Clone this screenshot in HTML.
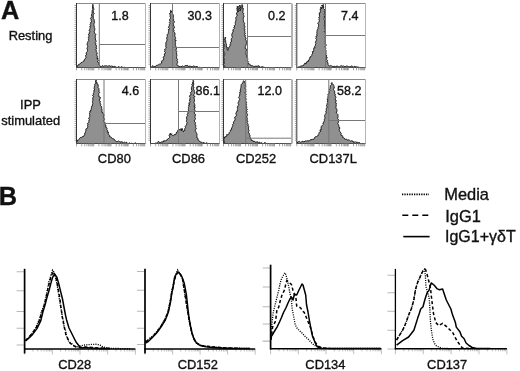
<!DOCTYPE html>
<html><head><meta charset="utf-8"><title>Figure</title><style>
html,body{margin:0;padding:0;background:#fff}
body{width:520px;height:371px;overflow:hidden}
svg{display:block;filter:blur(0.3px)}
text{font-family:"Liberation Sans",sans-serif;fill:#111;stroke:#111;stroke-width:0.35px}
</style></head><body>
<svg width="520" height="371" viewBox="0 0 520 371">
<rect width="520" height="371" fill="#fff"/>
<text x="0.9" y="19.3" font-size="25.3" font-weight="bold" fill="#000">A</text>
<text x="-1.2" y="204.8" font-size="25.3" font-weight="bold" fill="#000">B</text>
<g font-size="12.9" text-anchor="middle">
<text x="30.5" y="40.4">Resting</text>
<text x="30.5" y="108.5">IPP</text>
<text x="30.7" y="124.6">stimulated</text>
</g>
<polygon points="76.90,67.50 76.90,66.10 77.99,65.79 78.30,64.70 79.27,64.63 79.77,63.72 80.60,63.40 81.05,62.61 81.96,62.46 82.54,61.85 83.30,61.50 84.15,61.09 83.99,59.97 84.69,59.45 85.20,58.80 85.51,58.02 86.19,57.31 85.73,56.36 85.56,55.48 86.48,54.82 86.44,53.96 86.03,53.03 86.60,52.30 87.33,51.54 87.53,50.72 87.34,49.87 87.57,49.05 86.71,48.13 87.46,47.37 87.81,46.57 87.55,45.71 87.29,44.85 86.78,43.96 87.50,43.20 87.54,42.38 87.96,41.63 88.58,40.92 88.81,40.13 88.19,39.19 88.94,38.50 88.13,37.53 89.14,36.89 88.80,36 89,35.20 88.28,34.26 89.52,33.62 89.14,32.73 89.94,32.02 89.82,31.17 88.89,30.19 89.80,29.50 89.91,28.66 90.62,27.91 89.75,26.93 90,26.12 90.98,25.40 90.02,24.41 90.73,23.66 90.33,22.75 91.60,22.08 91.46,21.20 91.10,20.30 91.10,19.46 90.60,18.58 91.06,17.79 91.44,16.99 92.20,16.23 90.97,15.27 91.75,14.52 92.08,13.71 91.91,12.86 92.42,12.08 92,11.20 92.16,10.37 92.94,9.61 92.46,8.70 92.54,7.86 92.50,7 92.51,6.09 92.85,5.22 92.80,4.30 93.12,5.17 92.95,6.12 93.20,7 93.58,7.82 93.78,8.66 93.82,9.50 93.18,10.37 93.40,11.20 93.22,12.05 93.58,12.85 94.27,13.62 93.28,14.55 93.16,15.39 93.16,16.22 93.36,17.04 93.35,17.87 93.38,18.70 94.06,19.48 94.20,20.30 94.43,21.13 93.98,21.99 94.72,22.79 93.92,23.68 93.91,24.52 93.90,25.36 94.44,26.16 93.92,27.04 94.56,27.84 94.82,28.66 94.80,29.50 94.65,30.43 94.21,31.39 94.44,32.27 94.73,33.15 95.30,34 96,34.81 95.19,35.68 95.43,36.51 95.24,37.35 94.93,38.21 95.93,39 95.18,39.87 96.20,40.66 96.07,41.51 95.19,42.38 95.70,43.20 96.05,44 95.36,44.90 96.58,45.62 96.59,46.45 95.79,47.37 96.92,48.09 96.16,49 95.70,49.88 96.38,50.65 96.23,51.50 96.60,52.30 97.46,53.02 96.61,53.97 96.76,54.79 96.92,55.61 97.33,56.39 97.47,57.21 96.62,58.16 98.22,58.78 97.60,59.70 98.53,60.47 97.24,61.68 98.63,62.36 98.91,63.26 98.50,64.30 99.57,64.92 99.90,66.10 100.68,66.64 101.49,66.92 102.42,65.52 103.19,66.22 104,66.40 104.74,65.69 105.56,65.86 106.36,65.72 107.22,66.31 108,66 108.84,65.88 109.68,65.73 110.40,66.37 111.31,65.75 112,66.60 112.83,66 113.56,67.46 114.42,66.24 115.21,66.53 115.98,67.17 116.77,67.38 117.57,67.50 118.43,66.39 119.19,67.24 120,67 120.76,67.50 121.74,66.46 122.47,67.50 123.28,67.50 124.19,67.17 125,67.50" fill="#909090" stroke="#1a1a1a" stroke-width="1" stroke-linejoin="round"/>
<path d="M99.3 3.5V67.5M99.3 44.5H145.5" stroke="#777" stroke-width="1" fill="none"/>
<path d="M76.5 3.5H145.5" stroke="#8a8a8a" stroke-width="1"/>
<path d="M145.5 3.5V67.5" stroke="#b4b4b4" stroke-width="1"/>
<path d="M76.5 67.5H145.5" stroke="#4a4a4a" stroke-width="1"/>
<path d="M76.5 3.0V68.0" stroke="#333" stroke-width="1"/>
<path d="M74.5 5.5h1.6M74.5 7.6h1.6M74.5 9.7h1.6M74.5 11.8h1.6M74.5 13.9h1.6M74.5 16.0h1.6M74.5 18.1h1.6M74.5 20.2h1.6M74.5 22.3h1.6M74.5 24.4h1.6M74.5 26.5h1.6M74.5 28.6h1.6M74.5 30.7h1.6M74.5 32.8h1.6M74.5 34.9h1.6M74.5 37.0h1.6M74.5 39.1h1.6M74.5 41.2h1.6M74.5 43.3h1.6M74.5 45.4h1.6M74.5 47.5h1.6M74.5 49.6h1.6M74.5 51.7h1.6M74.5 53.8h1.6M74.5 55.9h1.6M74.5 58.0h1.6M74.5 60.1h1.6M74.5 62.2h1.6M74.5 64.3h1.6" stroke="#8a8a8a" stroke-width="0.8"/>
<path d="M76.5 67.5v2.8M81.7 67.5v2.8M84.7 67.5v2.8M86.9 67.5v2.8M88.6 67.5v2.8M89.9 67.5v2.8M91.1 67.5v2.8M92.1 67.5v2.8M93.0 67.5v2.8M93.8 67.5v2.8M98.9 67.5v2.8M102.0 67.5v2.8M104.1 67.5v2.8M105.8 67.5v2.8M107.2 67.5v2.8M108.3 67.5v2.8M109.3 67.5v2.8M110.2 67.5v2.8M111.0 67.5v2.8M116.2 67.5v2.8M119.2 67.5v2.8M121.4 67.5v2.8M123.1 67.5v2.8M124.4 67.5v2.8M125.6 67.5v2.8M126.6 67.5v2.8M127.5 67.5v2.8M128.2 67.5v2.8M133.4 67.5v2.8M136.5 67.5v2.8M138.6 67.5v2.8M140.3 67.5v2.8M141.7 67.5v2.8M142.8 67.5v2.8M143.8 67.5v2.8M144.7 67.5v2.8" stroke="#888" stroke-width="0.8"/>
<text x="111.3" y="20.4" font-size="12.5">1.8</text>
<polygon points="151,67.50 152,66.30 152.95,65.67 153.98,66.76 154.95,66.57 155.90,66.10 156.66,65.28 157.76,65.16 158.70,64.70 159.43,64.20 160.35,64.04 161,63.40 161.84,62.95 161.35,61.65 161.72,60.89 162.80,60.60 163.55,59.99 163.16,59.04 163.90,58.42 162.97,57.30 163.88,56.74 164.20,56 164.70,55.14 164.07,54.10 165.35,53.37 165.43,52.44 164.21,51.30 165.10,50.50 164.53,49.43 165.53,48.67 166.33,47.87 165.63,46.78 166,45.90 165.70,44.91 166.18,44.05 165.71,43.03 166.16,42.16 166.65,41.30 166.90,40.40 167.01,39.60 166.70,38.74 166.81,37.94 166.90,37.14 167.40,36.39 167.24,35.55 166.93,34.69 167.80,34 168.57,33.30 168.30,32.30 168.49,31.49 168.73,30.68 168.10,29.77 169.48,29.11 169.37,28.26 168.30,27.29 168.73,26.51 169.45,25.77 169.20,24.90 169.62,24.11 170.06,23.31 169.32,22.41 170.05,21.64 169.88,20.79 169.38,19.91 169.91,19.12 170.46,18.34 170.49,17.51 170.03,16.63 170.10,15.80 170.33,14.90 169.52,13.90 169.94,13.01 170.91,12.18 170.38,11.20 170.60,10.30 171.43,10.95 171.30,12 172.40,11.50 172.50,12.38 172.44,13.29 172.67,14.14 173.32,14.90 173.30,15.80 173.44,16.62 173.38,17.46 172.99,18.31 173.45,19.11 173.70,19.93 173.59,20.76 174.37,21.55 174.39,22.38 173.38,23.26 172.98,24.12 173.80,24.90 173.72,25.73 174.10,26.53 174.53,27.32 174.06,28.19 173.36,29.07 173.77,29.87 174.20,30.66 173.76,31.52 174.40,32.30 175.05,33.09 174.85,34.11 175.10,35 174.44,35.87 175.10,36.65 175.35,37.46 175.71,38.25 175.32,39.11 174.73,39.97 176.31,40.68 175.13,41.59 175.13,42.42 175.70,43.20 175.15,44.07 175.44,44.88 175.40,45.72 175.92,46.51 175.92,47.34 176.20,48.15 176.85,48.94 175.62,49.86 176.16,50.65 176.82,51.44 176.40,52.30 176.45,53.13 176.54,53.96 176.81,54.77 176.89,55.60 176.64,56.45 176.56,57.29 176.64,58.12 176.95,58.94 177.69,59.72 177,60.60 177.53,61.47 177.71,62.38 177.17,63.37 176.83,64.34 177.50,65.20 177.94,66.05 178.90,66.10 179.89,66.67 180.92,66.80 182,66.40 182.76,65.93 183.65,66.78 184.43,66.44 185.13,65.42 186,66 186.91,65.36 187.72,65.47 188.34,66.76 189.26,66.08 190,66.60 190.88,66 191.71,66.86 192.58,66.44 193.45,66.03 194.30,66.20 195.14,66.82 196,66.80 196.89,66.42 197.66,66.72 198.34,67.50 199.21,67.29 200,67.50" fill="#909090" stroke="#1a1a1a" stroke-width="1" stroke-linejoin="round"/>
<path d="M172.5 3.5V67.5M172.5 47.5H219.5" stroke="#777" stroke-width="1" fill="none"/>
<path d="M150.5 3.5H219.5" stroke="#8a8a8a" stroke-width="1"/>
<path d="M219.5 3.5V67.5" stroke="#b4b4b4" stroke-width="1"/>
<path d="M150.5 67.5H219.5" stroke="#4a4a4a" stroke-width="1"/>
<path d="M150.5 3.0V68.0" stroke="#333" stroke-width="1"/>
<path d="M148.5 5.5h1.6M148.5 7.6h1.6M148.5 9.7h1.6M148.5 11.8h1.6M148.5 13.9h1.6M148.5 16.0h1.6M148.5 18.1h1.6M148.5 20.2h1.6M148.5 22.3h1.6M148.5 24.4h1.6M148.5 26.5h1.6M148.5 28.6h1.6M148.5 30.7h1.6M148.5 32.8h1.6M148.5 34.9h1.6M148.5 37.0h1.6M148.5 39.1h1.6M148.5 41.2h1.6M148.5 43.3h1.6M148.5 45.4h1.6M148.5 47.5h1.6M148.5 49.6h1.6M148.5 51.7h1.6M148.5 53.8h1.6M148.5 55.9h1.6M148.5 58.0h1.6M148.5 60.1h1.6M148.5 62.2h1.6M148.5 64.3h1.6" stroke="#8a8a8a" stroke-width="0.8"/>
<path d="M150.5 67.5v2.8M155.7 67.5v2.8M158.7 67.5v2.8M160.9 67.5v2.8M162.6 67.5v2.8M163.9 67.5v2.8M165.1 67.5v2.8M166.1 67.5v2.8M167.0 67.5v2.8M167.8 67.5v2.8M172.9 67.5v2.8M176.0 67.5v2.8M178.1 67.5v2.8M179.8 67.5v2.8M181.2 67.5v2.8M182.3 67.5v2.8M183.3 67.5v2.8M184.2 67.5v2.8M185.0 67.5v2.8M190.2 67.5v2.8M193.2 67.5v2.8M195.4 67.5v2.8M197.1 67.5v2.8M198.4 67.5v2.8M199.6 67.5v2.8M200.6 67.5v2.8M201.5 67.5v2.8M202.2 67.5v2.8M207.4 67.5v2.8M210.5 67.5v2.8M212.6 67.5v2.8M214.3 67.5v2.8M215.7 67.5v2.8M216.8 67.5v2.8M217.8 67.5v2.8M218.7 67.5v2.8" stroke="#888" stroke-width="0.8"/>
<text x="187.5" y="20.4" font-size="12.5">30.3</text>
<polygon points="224,67.50 224.73,66.68 224.72,65.85 223.29,65.03 223.34,64.21 224.54,63.39 224.38,62.56 224.27,61.74 223.69,60.92 224.17,60.10 224.17,59.27 224.13,58.45 223.45,57.63 223.89,56.81 223.83,55.98 224.36,55.16 224.79,54.34 224.72,53.52 224.07,52.69 223.91,51.87 223.63,51.05 223.26,50.23 223.24,49.40 223.94,48.58 223.71,47.76 223.81,46.94 224.63,46.11 224.04,45.29 224.10,44.47 223.58,43.65 223.24,42.82 224,42 223.89,41.11 223.76,40.22 224.52,39.50 225.45,38.82 225.11,37.89 225,37 225.69,37.68 224.79,38.75 225.14,39.52 225.44,40.29 226,41 225.49,41.94 225.85,42.73 225.94,43.57 226.76,44.30 225.91,45.29 226.80,46 226.28,47.06 227.73,47.68 227,48.79 227.26,49.67 227.80,50.50 228.01,49.65 228.38,48.85 228.60,48 228.99,47.24 229.40,46.50 230.31,45.87 229.93,44.83 230.20,44 230.91,43.33 230.37,42.34 231.39,41.75 231.62,40.96 231.20,40 231.28,39.13 231.59,38.30 232.29,37.54 232.12,36.63 231.89,35.71 231.62,34.78 232.20,34 232.23,32.92 233.11,32.09 233.10,31 232.83,29.91 233.60,29.10 234.43,28.48 233.64,27.45 234.84,26.92 234.10,25.90 234.60,25.20 235.51,24.54 235.32,23.62 235.21,22.72 235.43,21.89 235.84,21.11 235.94,20.26 236,19.40 235.84,18.46 235.80,17.53 236.42,16.70 237.22,15.90 236.86,14.93 236.80,14 236.19,13.14 237.45,12.44 237.37,11.63 237.73,10.86 236.66,9.96 237.61,9.23 236.59,8.34 237.60,7.62 237.07,6.77 237.50,6 238.03,6.81 237.10,7.78 238.43,8.50 237.86,9.43 237.44,10.35 238.51,11.10 238.20,12 237.91,11.11 239.12,10.52 238.56,9.58 239.18,8.87 239,8 238.54,6.81 239.32,5.94 239.80,5 240.42,5.80 239.73,6.75 240.76,7.49 239.48,8.51 241.05,9.20 240.04,10.19 240.50,11 239.88,10.05 240.38,9.27 241.40,8.58 240.49,7.58 240.67,6.75 241.30,6 241.97,5.39 242.10,4.50 242.40,5.39 243.06,6.24 241.67,7.35 243.12,8.10 243.42,8.99 242.80,10 243.15,10.89 242.82,11.86 242.71,12.80 243.82,13.61 243.30,14.60 243.64,15.38 244.21,16.14 243.63,17.02 243.21,17.88 243.33,18.68 243.16,19.52 243.48,20.30 243.39,21.13 243.72,21.91 244.18,22.68 244.65,23.45 244.30,24.30 244.09,25.18 244.69,26.02 245.09,26.87 244.58,27.78 243.95,28.68 245.19,29.49 244.51,30.40 244.87,31.25 244.73,32.13 244.80,33 245.48,33.80 244.30,34.84 245.52,35.58 245.08,36.52 245.49,37.36 246.24,38.15 245.50,39.14 245.70,40 246.31,40.80 246.48,41.62 246.55,42.45 246.38,43.28 246.51,44.11 245.68,44.97 245.92,45.79 245.19,46.64 245.31,47.47 245.24,48.30 246.49,49.08 246.19,49.92 246.53,50.73 246.02,51.58 246.20,52.40 246.11,53.29 245.95,54.19 246.20,55.04 247.03,55.82 246.88,56.72 246.83,57.61 247.76,58.37 247.83,59.24 247.20,60.20 247.62,60.93 248.35,61.55 247.70,62.66 248.71,63.18 248.60,64.10 249.80,64.23 250.52,64.97 251,66 251.85,65.67 252.66,65.75 253.40,66.33 254.21,66.34 255,66.50 255.95,66.03 257.04,66.39 258,66 258.89,65.71 259.47,66.96 260.25,67.21 261.13,67 262,66.80 263.02,66.93 264,67.28 265,67.50" fill="#909090" stroke="#1a1a1a" stroke-width="1" stroke-linejoin="round"/>
<path d="M247.5 3.5V67.5M247.5 36.5H291.5" stroke="#777" stroke-width="1" fill="none"/>
<path d="M223.5 3.5H291.5" stroke="#8a8a8a" stroke-width="1"/>
<path d="M292.0 3.5V67.5" stroke="#b4b4b4" stroke-width="2"/>
<path d="M223.5 67.5H291.5" stroke="#4a4a4a" stroke-width="1"/>
<path d="M223.5 3.0V68.0" stroke="#333" stroke-width="1"/>
<path d="M221.5 5.5h1.6M221.5 7.6h1.6M221.5 9.7h1.6M221.5 11.8h1.6M221.5 13.9h1.6M221.5 16.0h1.6M221.5 18.1h1.6M221.5 20.2h1.6M221.5 22.3h1.6M221.5 24.4h1.6M221.5 26.5h1.6M221.5 28.6h1.6M221.5 30.7h1.6M221.5 32.8h1.6M221.5 34.9h1.6M221.5 37.0h1.6M221.5 39.1h1.6M221.5 41.2h1.6M221.5 43.3h1.6M221.5 45.4h1.6M221.5 47.5h1.6M221.5 49.6h1.6M221.5 51.7h1.6M221.5 53.8h1.6M221.5 55.9h1.6M221.5 58.0h1.6M221.5 60.1h1.6M221.5 62.2h1.6M221.5 64.3h1.6" stroke="#8a8a8a" stroke-width="0.8"/>
<path d="M223.5 67.5v2.8M228.6 67.5v2.8M231.6 67.5v2.8M233.7 67.5v2.8M235.4 67.5v2.8M236.7 67.5v2.8M237.9 67.5v2.8M238.9 67.5v2.8M239.7 67.5v2.8M240.5 67.5v2.8M245.6 67.5v2.8M248.6 67.5v2.8M250.7 67.5v2.8M252.4 67.5v2.8M253.7 67.5v2.8M254.9 67.5v2.8M255.9 67.5v2.8M256.7 67.5v2.8M257.5 67.5v2.8M262.6 67.5v2.8M265.6 67.5v2.8M267.7 67.5v2.8M269.4 67.5v2.8M270.7 67.5v2.8M271.9 67.5v2.8M272.9 67.5v2.8M273.7 67.5v2.8M274.5 67.5v2.8M279.6 67.5v2.8M282.6 67.5v2.8M284.7 67.5v2.8M286.4 67.5v2.8M287.7 67.5v2.8M288.9 67.5v2.8M289.9 67.5v2.8M290.7 67.5v2.8" stroke="#888" stroke-width="0.8"/>
<text x="268" y="20.4" font-size="12.5">0.2</text>
<polygon points="298,67.50 298.65,66.74 299.68,66.81 300.39,66.19 301.30,66 302.26,65.82 303.17,65.52 304,65 304.13,63.94 304.68,63.34 306.16,63.78 306.14,62.55 307,62.30 307.12,61.35 308.61,61.31 308.39,60.14 309.35,59.75 309.34,58.72 310.04,58.15 309.86,57 310.80,56.60 311.34,55.93 312.02,55.32 311.85,54.34 312.51,53.72 312.75,52.91 312.20,51.76 313.56,51.45 313.65,50.58 313.57,49.63 314.20,49 313.62,48.05 315.09,47.50 314.63,46.57 315.17,45.84 315.58,45.08 315.48,44.22 315.96,43.48 315.29,42.51 316.09,41.83 315.68,40.91 316.61,40.25 316.68,39.43 315.61,38.38 316.40,37.70 315.92,36.83 316.15,36.05 317.44,35.41 316.70,34.51 317.10,33.75 316.68,32.89 317.11,32.14 317.02,31.32 317.06,30.52 317.54,29.77 317.63,28.97 318.24,28.24 317.99,27.40 318.48,26.66 318.47,25.85 318.78,25.08 318.37,24.22 317.67,23.33 318.30,22.60 319,21.85 319.30,21.03 319.34,20.17 318.94,19.24 319.30,18.43 318.64,17.46 319.76,16.77 319.48,15.86 319.50,15 319.34,14.01 319.16,13.02 320.58,12.33 320.20,11.30 321.10,10.55 319.79,9.49 321.04,8.79 320.54,7.84 320.80,7 321.68,7.82 321.50,9 321.34,8.14 322.24,7.48 322.56,6.72 321.42,5.66 322.30,5 322.36,5.88 323.47,6.47 323,7.50 323.54,6.57 323.13,5.45 323.60,4.50 323.12,5.48 323.08,6.40 323.95,7.20 323.29,8.21 324.20,9 324.53,9.79 324.93,10.58 324.13,11.42 325.07,12.19 324.83,13 324.52,13.82 324.23,14.64 324.98,15.41 325.19,16.21 323.90,17.06 324.82,17.84 323.82,18.68 323.94,19.48 324.80,20.25 324.70,21.06 324.63,21.87 324.47,22.68 324.57,23.48 324.66,24.28 324.59,25.09 324.11,25.91 324.83,26.69 324.98,27.49 324.90,28.30 324.58,29.13 325.38,29.92 325.31,30.74 324.26,31.59 325.02,32.38 325,33.20 325.89,33.99 325.28,34.83 325.04,35.65 325.97,36.44 325.04,37.29 325.05,38.11 325.99,38.89 325.12,39.74 325.40,40.55 325.09,41.38 325.65,42.17 325.11,43.01 325.09,43.83 326.26,44.61 326.23,45.42 325.28,46.28 324.85,47.11 326.02,47.89 325.72,48.71 325.53,49.54 326,50.34 325.96,51.16 326.07,51.97 325.80,52.80 326.14,53.58 325.92,54.45 326.52,55.19 326.54,56.02 326.05,56.94 327.36,57.56 326.64,58.52 326.51,59.38 327.32,60.08 327.60,60.87 326.81,61.84 327.84,62.50 328.06,63.30 327.70,64.20 328.40,64.72 328.75,65.63 329.60,66 330.56,65.45 331.43,65.88 332.32,65.99 333.15,66.86 334.11,66.32 335,66.50 335.85,67.04 336.65,65.92 337.49,66.16 338.34,66.64 339.19,66.99 340,66.27 340.82,65.89 341.65,65.69 342.50,66.32 343.32,65.76 344.18,66.72 345,66.20 345.80,66.79 346.70,65.79 347.52,66 348.30,66.89 349.15,66.68 349.97,66.99 350.85,66.30 351.70,66.01 352.52,66.32 353.31,67.17 354.19,66.38 355,66.80 355.87,66.67 356.69,66.90 357.52,67.02 358.35,67.12 359.07,67.50 360,67.50" fill="#909090" stroke="#1a1a1a" stroke-width="1" stroke-linejoin="round"/>
<path d="M325.5 3.5V67.5M325.5 35.5H365.5" stroke="#777" stroke-width="1" fill="none"/>
<path d="M296.8 3.5H365.5" stroke="#8a8a8a" stroke-width="1"/>
<path d="M365.5 3.5V67.5" stroke="#b4b4b4" stroke-width="1"/>
<path d="M296.8 67.5H365.5" stroke="#4a4a4a" stroke-width="1"/>
<path d="M296.8 3.0V68.0" stroke="#333" stroke-width="1"/>
<path d="M294.8 5.5h1.6M294.8 7.6h1.6M294.8 9.7h1.6M294.8 11.8h1.6M294.8 13.9h1.6M294.8 16.0h1.6M294.8 18.1h1.6M294.8 20.2h1.6M294.8 22.3h1.6M294.8 24.4h1.6M294.8 26.5h1.6M294.8 28.6h1.6M294.8 30.7h1.6M294.8 32.8h1.6M294.8 34.9h1.6M294.8 37.0h1.6M294.8 39.1h1.6M294.8 41.2h1.6M294.8 43.3h1.6M294.8 45.4h1.6M294.8 47.5h1.6M294.8 49.6h1.6M294.8 51.7h1.6M294.8 53.8h1.6M294.8 55.9h1.6M294.8 58.0h1.6M294.8 60.1h1.6M294.8 62.2h1.6M294.8 64.3h1.6" stroke="#8a8a8a" stroke-width="0.8"/>
<path d="M296.8 67.5v2.8M302.0 67.5v2.8M305.0 67.5v2.8M307.1 67.5v2.8M308.8 67.5v2.8M310.2 67.5v2.8M311.3 67.5v2.8M312.3 67.5v2.8M313.2 67.5v2.8M314.0 67.5v2.8M319.1 67.5v2.8M322.2 67.5v2.8M324.3 67.5v2.8M326.0 67.5v2.8M327.3 67.5v2.8M328.5 67.5v2.8M329.5 67.5v2.8M330.4 67.5v2.8M331.1 67.5v2.8M336.3 67.5v2.8M339.3 67.5v2.8M341.5 67.5v2.8M343.2 67.5v2.8M344.5 67.5v2.8M345.7 67.5v2.8M346.7 67.5v2.8M347.5 67.5v2.8M348.3 67.5v2.8M353.5 67.5v2.8M356.5 67.5v2.8M358.7 67.5v2.8M360.3 67.5v2.8M361.7 67.5v2.8M362.8 67.5v2.8M363.8 67.5v2.8M364.7 67.5v2.8" stroke="#888" stroke-width="0.8"/>
<text x="341" y="20.4" font-size="12.5">7.4</text>
<polygon points="76.80,143.50 76.69,142.24 77.40,141.20 77.55,140.15 78.48,139.88 79.20,139.40 79.62,138.34 80.29,137.60 81.50,137.50 82.09,136.71 83.36,136.63 83.93,135.82 84.30,134.80 85.04,134.25 84.62,133.13 85.43,132.61 85.42,131.68 86.10,131.10 85.79,130.19 85.89,129.37 86.26,128.63 87.56,128.13 87.61,127.30 87.78,126.51 87.50,125.60 88.15,124.92 87.39,123.92 87.76,123.17 88.44,122.50 88.79,121.76 89.17,121.02 88.80,120.10 89.56,119.29 88.48,118.15 89.47,117.38 89.74,116.48 89.64,115.52 89.80,114.60 89.43,113.60 90.04,112.75 89.57,111.74 91.05,111.02 90.50,110 91.41,109.36 91.30,108.30 91.60,107.40 91.42,106.52 92.53,105.85 92.13,104.93 92.76,104.18 92.85,103.34 92.45,102.42 92.44,101.57 92.88,100.79 92.75,99.91 93,99.10 92.56,98.22 92.89,97.44 93.80,96.73 92.67,95.77 92.78,94.96 93.80,94.26 93.35,93.38 93.85,92.62 93.90,91.80 93.97,90.98 93.88,90.14 95.03,89.47 93.87,88.48 94.32,87.72 94.10,86.86 94.90,86.14 94.80,85.30 94.71,84.37 95.08,83.58 95.93,82.94 95.80,82 95.72,80.85 96.20,79.80 96.21,80.74 95.76,81.72 97.13,82.51 96.60,83.50 97.85,83.97 98,85.30 98.54,86.05 97.80,86.98 98.15,87.76 98.87,88.49 98.83,89.33 99.19,90.10 98.85,90.98 98.90,91.80 99.74,92.51 98.81,93.47 98.61,94.32 98.62,95.14 99.08,95.91 98.84,96.77 100.44,97.37 100.12,98.24 99.90,99.10 99.31,100.14 99.77,101 100.49,101.83 99.80,102.88 100.46,103.71 100.80,104.60 100.45,105.58 101.43,106.35 101.74,107.22 101.49,108.19 102.12,109 101.70,110 102.20,110.86 101.65,112.09 102.93,112.69 103,113.70 103.90,114.38 103.97,115.19 103.90,116.02 103.05,116.97 103.84,117.67 104.08,118.45 104.51,119.20 104,120.10 103.42,121.17 104.48,121.92 105,122.77 105.41,123.64 104.90,124.70 105.86,125.21 105.99,126.04 105.54,127.10 106.62,127.56 107.08,128.27 106.70,129.30 107.04,130.08 107.73,130.72 106.95,131.96 108.57,132.21 108.30,133.25 108.27,134.18 109,134.80 109.67,135.43 109.50,136.72 110.71,136.94 111.57,137.43 111.80,138.40 112.60,138.74 113.64,138.70 114.03,139.67 114.90,139.90 115.40,140.70 115.99,141.53 116.78,141.67 117.70,141.40 118.68,140.92 119.35,141.49 120,142.10 120.97,141.81 121.89,141.87 122.80,142.02 123.59,143.15 124.66,142.11 125.50,142.80 126.36,142.13 127.08,143.50 127.93,143.05 128.70,143.50 129.57,142.90 130.34,143.50 131.17,143.40 132,143.20 132.77,143.50 133.57,143.50 134.40,143.37 135.25,142.79 136,143.50" fill="#909090" stroke="#1a1a1a" stroke-width="1" stroke-linejoin="round"/>
<path d="M104 79.5V143.5M104 123.5H145.5" stroke="#777" stroke-width="1" fill="none"/>
<path d="M76.5 79.5H145.5" stroke="#8a8a8a" stroke-width="1"/>
<path d="M145.5 79.5V143.5" stroke="#b4b4b4" stroke-width="1"/>
<path d="M76.5 143.5H145.5" stroke="#4a4a4a" stroke-width="1"/>
<path d="M76.5 79.0V144.0" stroke="#333" stroke-width="1"/>
<path d="M74.5 81.5h1.6M74.5 83.6h1.6M74.5 85.7h1.6M74.5 87.8h1.6M74.5 89.9h1.6M74.5 92.0h1.6M74.5 94.1h1.6M74.5 96.2h1.6M74.5 98.3h1.6M74.5 100.4h1.6M74.5 102.5h1.6M74.5 104.6h1.6M74.5 106.7h1.6M74.5 108.8h1.6M74.5 110.9h1.6M74.5 113.0h1.6M74.5 115.1h1.6M74.5 117.2h1.6M74.5 119.3h1.6M74.5 121.4h1.6M74.5 123.5h1.6M74.5 125.6h1.6M74.5 127.7h1.6M74.5 129.8h1.6M74.5 131.9h1.6M74.5 134.0h1.6M74.5 136.1h1.6M74.5 138.2h1.6M74.5 140.3h1.6" stroke="#8a8a8a" stroke-width="0.8"/>
<path d="M76.5 143.5v2.8M81.7 143.5v2.8M84.7 143.5v2.8M86.9 143.5v2.8M88.6 143.5v2.8M89.9 143.5v2.8M91.1 143.5v2.8M92.1 143.5v2.8M93.0 143.5v2.8M93.8 143.5v2.8M98.9 143.5v2.8M102.0 143.5v2.8M104.1 143.5v2.8M105.8 143.5v2.8M107.2 143.5v2.8M108.3 143.5v2.8M109.3 143.5v2.8M110.2 143.5v2.8M111.0 143.5v2.8M116.2 143.5v2.8M119.2 143.5v2.8M121.4 143.5v2.8M123.1 143.5v2.8M124.4 143.5v2.8M125.6 143.5v2.8M126.6 143.5v2.8M127.5 143.5v2.8M128.2 143.5v2.8M133.4 143.5v2.8M136.5 143.5v2.8M138.6 143.5v2.8M140.3 143.5v2.8M141.7 143.5v2.8M142.8 143.5v2.8M143.8 143.5v2.8M144.7 143.5v2.8" stroke="#888" stroke-width="0.8"/>
<text x="121.8" y="94.8" font-size="12.5">4.6</text>
<polygon points="151,143.50 151.93,143.50 152.87,143.50 153.78,143.49 154.72,143.50 155.57,143.09 156.52,143.22 157.30,142.40 158.14,141.53 159.17,142.11 160.21,142.74 161.09,142.16 162,141.80 163.14,142.15 163.77,140.67 164.90,141 165.69,140.70 166.50,140.50 166.91,139.51 167.90,139.10 168.70,138.40 169.40,137.60 169.72,136.75 169.04,135.67 169.56,134.86 169.86,134 170.40,133.20 170.07,134.31 171,135 171.80,133.70 171.75,134.75 172.50,135.50 173.30,135.70 174,134.72 175.20,134.70 176.10,134.21 176.20,133.20 176.56,132.08 177.70,131.80 178.18,131.07 177.74,129.99 178.60,129.40 179.40,130 180.10,128.90 181.27,129.51 181,130.80 181.88,130.23 181.24,129.02 182,128.40 182.79,129.07 182.04,130.41 182.58,131.19 183.50,131.80 183.54,130.82 184.88,130.38 184.61,129.27 184.90,128.40 185.50,127.53 185.12,126.31 185.90,125.50 186.74,124.79 186.49,123.89 187.06,123.14 187.09,122.29 186.30,121.30 186.54,120.49 186.90,119.70 186.50,118.78 186.60,117.93 186.60,117.07 187.10,116.28 187.71,115.51 186.89,114.52 187.80,113.80 188.20,112.95 187.78,112 187.85,111.11 188.77,110.33 188.35,109.38 188.50,108.50 188.35,107.61 188.76,106.81 189.26,106.02 188.38,105 189.97,104.41 188.61,103.30 189.91,102.66 190.20,101.84 189.80,100.90 189.13,99.99 190.46,99.33 189.89,98.44 190.32,97.67 189.52,96.75 189.68,95.94 189.99,95.16 191.32,94.50 190.70,93.60 190.37,92.60 191.40,91.83 191.83,90.96 192,90.05 191.20,88.98 191.60,88.10 191.52,87.21 191.94,86.41 192.48,85.63 191.58,84.59 192.74,83.92 192.50,83 193.13,82.19 193.40,81.30 193,80.30 193.84,81.15 192.49,82.23 193.95,83 193.40,84 193.75,84.79 193.42,85.66 193.04,86.54 194.05,87.25 193.90,88.10 193.25,88.92 193.88,89.70 194.27,90.49 194.29,91.29 194.54,92.08 194.72,92.88 194.64,93.68 193.80,94.51 193.33,95.32 194.69,96.08 194.90,96.88 193.42,97.72 194.17,98.50 194.40,99.30 194.70,100.09 194.30,100.90 194.19,101.79 193.85,102.70 194.48,103.56 194.58,104.44 195.20,105.31 193.86,106.25 195.31,107.08 194.60,108 194.65,108.81 194.14,109.64 195.32,110.39 194.40,111.25 194.09,112.08 194.64,112.86 194.43,113.68 195.56,114.43 195.08,115.27 195.58,116.05 194.51,116.92 195.10,117.70 195.47,118.49 195.26,119.31 194.43,120.17 194.70,120.96 194.55,121.78 195.42,122.55 195.41,123.36 195.07,124.19 195.51,124.97 195.85,125.77 195.71,126.58 195.60,127.40 196.27,128.19 196.02,129.11 195.16,130.10 195.31,130.96 195.95,131.76 196.27,132.60 196.63,133.43 197.14,134.25 196.60,135.20 197.22,135.86 196.74,136.91 196.89,137.74 197.93,138.25 198,139.10 198.32,140.19 199,140.98 200,141.50 200.80,142.10 201.72,142.35 202.57,142.79 203.67,142.49 204.50,143 205.39,143.41 206.37,142.82 207.25,143.23 208.13,143.50 209.06,143.50 210,143.50" fill="#909090" stroke="#1a1a1a" stroke-width="1" stroke-linejoin="round"/>
<path d="M178.5 79.5V143.5M178.5 111.5H219.5" stroke="#777" stroke-width="1" fill="none"/>
<path d="M150.5 79.5H219.5" stroke="#8a8a8a" stroke-width="1"/>
<path d="M219.5 79.5V143.5" stroke="#b4b4b4" stroke-width="1"/>
<path d="M150.5 143.5H219.5" stroke="#4a4a4a" stroke-width="1"/>
<path d="M150.5 79.0V144.0" stroke="#333" stroke-width="1"/>
<path d="M148.5 81.5h1.6M148.5 83.6h1.6M148.5 85.7h1.6M148.5 87.8h1.6M148.5 89.9h1.6M148.5 92.0h1.6M148.5 94.1h1.6M148.5 96.2h1.6M148.5 98.3h1.6M148.5 100.4h1.6M148.5 102.5h1.6M148.5 104.6h1.6M148.5 106.7h1.6M148.5 108.8h1.6M148.5 110.9h1.6M148.5 113.0h1.6M148.5 115.1h1.6M148.5 117.2h1.6M148.5 119.3h1.6M148.5 121.4h1.6M148.5 123.5h1.6M148.5 125.6h1.6M148.5 127.7h1.6M148.5 129.8h1.6M148.5 131.9h1.6M148.5 134.0h1.6M148.5 136.1h1.6M148.5 138.2h1.6M148.5 140.3h1.6" stroke="#8a8a8a" stroke-width="0.8"/>
<path d="M150.5 143.5v2.8M155.7 143.5v2.8M158.7 143.5v2.8M160.9 143.5v2.8M162.6 143.5v2.8M163.9 143.5v2.8M165.1 143.5v2.8M166.1 143.5v2.8M167.0 143.5v2.8M167.8 143.5v2.8M172.9 143.5v2.8M176.0 143.5v2.8M178.1 143.5v2.8M179.8 143.5v2.8M181.2 143.5v2.8M182.3 143.5v2.8M183.3 143.5v2.8M184.2 143.5v2.8M185.0 143.5v2.8M190.2 143.5v2.8M193.2 143.5v2.8M195.4 143.5v2.8M197.1 143.5v2.8M198.4 143.5v2.8M199.6 143.5v2.8M200.6 143.5v2.8M201.5 143.5v2.8M202.2 143.5v2.8M207.4 143.5v2.8M210.5 143.5v2.8M212.6 143.5v2.8M214.3 143.5v2.8M215.7 143.5v2.8M216.8 143.5v2.8M217.8 143.5v2.8M218.7 143.5v2.8" stroke="#888" stroke-width="0.8"/>
<text x="195.6" y="94.6" font-size="12.5">86.1</text>
<polygon points="224,143.50 224.47,142.60 224.52,141.70 223.98,140.80 223.62,139.90 224,139 224.40,138 224.86,136.73 226.20,136.80 226.70,135.71 226.70,134.50 227.90,135 228.31,134.23 229.16,133.71 229.08,132.65 229.70,132 230.48,131.41 230.18,130.27 231.33,129.87 231.63,129.03 231.58,128.02 232.10,127.30 232.42,126.48 232.89,125.70 232.40,124.63 233.21,123.95 233.85,123.23 233.28,122.13 233.90,121.40 234.64,120.76 234.75,119.90 235.27,119.18 234.79,118.11 234.70,117.18 235.60,116.60 236.27,115.93 236.47,115.14 236.12,114.21 235.77,113.28 236.13,112.54 237.01,111.92 236.68,111 237.90,110.47 237.40,109.50 237.64,108.64 237.12,107.70 237.95,106.90 237.58,105.97 238.59,105.20 238.65,104.32 238.12,103.38 238.20,102.50 238.63,101.71 238.91,100.89 239.28,100.09 239.74,99.32 239.20,98.30 238.57,97.38 239.21,96.64 239.71,95.87 239.36,94.99 239.92,94.24 239.90,93.40 239.41,92.47 240.81,91.92 240.41,91.01 239.93,90.08 240.94,89.45 240.55,88.54 241,87.80 240.73,86.85 241.37,86.11 241.04,85.15 241.35,84.33 242,83.60 243.03,82.80 243,81.50 243.80,80.80 244.60,81.50 244.60,82.64 245.20,83.60 246,84.39 244.81,85.25 246.05,86.03 245.57,86.86 244.68,87.70 245.16,88.51 245.69,89.31 245.60,90.13 245.60,90.94 246.05,91.75 244.68,92.61 245.50,93.40 246.28,94.16 245.76,95.02 245.31,95.88 245.93,96.65 245.07,97.55 245.90,98.30 246.44,99.07 245.42,100.11 245.70,100.92 246.19,101.70 246.60,102.50 245.99,103.32 246.72,104.11 246.12,104.93 246.19,105.73 246.65,106.53 246.74,107.33 246.38,108.14 246.87,108.94 247.40,109.73 246.36,110.56 247.15,111.35 246.81,112.16 246.35,112.98 247.35,113.76 247.60,114.56 247.45,115.37 246.73,116.19 247.11,116.99 246.90,117.80 247.41,118.54 247.22,119.38 246.58,120.28 247.77,120.91 247.64,121.75 247.02,122.65 247.56,123.38 248.23,124.09 248.02,124.93 248.13,125.73 248.79,126.44 248.53,127.29 248.77,128.07 248.10,128.98 248.70,129.70 249.11,130.44 248.72,131.32 248.36,132.19 248.57,132.97 249.56,133.61 249.34,134.46 249.92,135.17 249.93,135.98 249.90,136.80 250.32,137.56 250.28,138.55 251.10,139.10 251.19,140.33 252.63,140.49 253,141.50 254.23,141.04 255.02,142.02 256,142.40 256.93,141.78 257.79,141.82 258.53,143.09 259.49,142.13 260.25,143.18 261.16,142.69 262,143 262.80,143.50 263.67,143.50 264.63,142.52 265.47,142.80 266.23,143.50 267.13,143.50 268,143.50" fill="#909090" stroke="#1a1a1a" stroke-width="1" stroke-linejoin="round"/>
<path d="M245.7 79.5V143.5M245.7 138.2H291.5" stroke="#777" stroke-width="1" fill="none"/>
<path d="M223.5 79.5H291.5" stroke="#8a8a8a" stroke-width="1"/>
<path d="M292.0 79.5V143.5" stroke="#b4b4b4" stroke-width="2"/>
<path d="M223.5 143.5H291.5" stroke="#4a4a4a" stroke-width="1"/>
<path d="M223.5 79.0V144.0" stroke="#333" stroke-width="1"/>
<path d="M221.5 81.5h1.6M221.5 83.6h1.6M221.5 85.7h1.6M221.5 87.8h1.6M221.5 89.9h1.6M221.5 92.0h1.6M221.5 94.1h1.6M221.5 96.2h1.6M221.5 98.3h1.6M221.5 100.4h1.6M221.5 102.5h1.6M221.5 104.6h1.6M221.5 106.7h1.6M221.5 108.8h1.6M221.5 110.9h1.6M221.5 113.0h1.6M221.5 115.1h1.6M221.5 117.2h1.6M221.5 119.3h1.6M221.5 121.4h1.6M221.5 123.5h1.6M221.5 125.6h1.6M221.5 127.7h1.6M221.5 129.8h1.6M221.5 131.9h1.6M221.5 134.0h1.6M221.5 136.1h1.6M221.5 138.2h1.6M221.5 140.3h1.6" stroke="#8a8a8a" stroke-width="0.8"/>
<path d="M223.5 143.5v2.8M228.6 143.5v2.8M231.6 143.5v2.8M233.7 143.5v2.8M235.4 143.5v2.8M236.7 143.5v2.8M237.9 143.5v2.8M238.9 143.5v2.8M239.7 143.5v2.8M240.5 143.5v2.8M245.6 143.5v2.8M248.6 143.5v2.8M250.7 143.5v2.8M252.4 143.5v2.8M253.7 143.5v2.8M254.9 143.5v2.8M255.9 143.5v2.8M256.7 143.5v2.8M257.5 143.5v2.8M262.6 143.5v2.8M265.6 143.5v2.8M267.7 143.5v2.8M269.4 143.5v2.8M270.7 143.5v2.8M271.9 143.5v2.8M272.9 143.5v2.8M273.7 143.5v2.8M274.5 143.5v2.8M279.6 143.5v2.8M282.6 143.5v2.8M284.7 143.5v2.8M286.4 143.5v2.8M287.7 143.5v2.8M288.9 143.5v2.8M289.9 143.5v2.8M290.7 143.5v2.8" stroke="#888" stroke-width="0.8"/>
<text x="257.5" y="94.8" font-size="12.5">12.0</text>
<polygon points="297.50,143.50 297.50,142 298.45,141.72 299.40,141.44 300.35,142.24 301.30,142 302.13,141.20 303.16,141.81 304.05,141.41 305,141.50 305.90,140.70 306.95,141.31 307.85,140.46 308.90,141.10 309.63,140.68 310.18,139.82 310.97,139.52 312,139.80 312.77,139.20 313.94,139.25 314.50,138.30 314.76,137.25 315.54,136.77 316.50,136.50 317.25,135.97 318.23,135.65 318.30,134.50 318.91,133.66 319.16,132.62 319.80,131.80 320.82,131.35 319.78,130.01 321.30,129.78 321.10,128.80 321.09,127.92 321.17,127.07 321.43,126.30 322.01,125.65 322.60,125 323.42,124.25 322.82,122.97 323.77,122.27 324,121.30 324.46,120.41 324.30,119.35 324.82,118.47 325,117.50 324.52,116.41 324.71,115.45 325.14,114.55 325.80,113.70 326.20,112.88 325.91,111.97 325.84,111.10 326.38,110.30 326.28,109.41 326.15,108.53 327.04,107.77 327,106.90 326.80,106 326.49,105.13 327.12,104.37 327.14,103.54 327.80,102.78 327.66,101.93 327.06,101.03 328.26,100.34 326.99,99.35 327.70,98.60 327.73,97.75 328.43,97.03 327.64,96.02 328.33,95.30 327.79,94.33 328.94,93.70 329.25,92.91 329,92 329.31,91.20 329.98,90.49 329.31,89.45 330.10,88.77 330.15,87.91 330.32,87.08 330.33,86.21 330.60,85.40 331.46,84.64 331.30,83.50 331.90,82.50 331.74,83.62 332.80,84 333.33,84.68 333.80,85.40 333.63,86.25 334.67,86.98 333.74,87.91 333.92,88.72 333.45,89.61 333.81,90.40 334.76,91.14 334.50,92 334.78,92.80 334.43,93.68 335.56,94.38 334.96,95.29 335.53,96.06 335.71,96.88 335.90,97.69 335.30,98.60 334.99,99.48 336.11,100.17 336.03,101.01 335.92,101.87 335.27,102.79 336.63,103.44 336.16,104.34 336.11,105.19 336.30,106 335.79,106.93 335.99,107.77 336.02,108.63 337.05,109.38 336.93,110.26 337.12,111.11 336.39,112.06 336.37,112.93 337.20,113.70 337.86,114.44 337.93,115.26 337.95,116.09 338.05,116.90 337.76,117.77 337.70,118.60 338.33,119.35 338.84,120.11 338.29,121.01 338.48,121.82 338.27,122.67 337.77,123.57 338.29,124.33 338.70,125.10 338.86,125.89 338.88,126.71 338.98,127.51 340.13,128.07 338.99,129.16 339.36,129.90 339.40,130.72 339.70,131.48 340.52,132.11 340.69,132.90 341.33,133.57 340.90,134.50 341.11,135.31 342.31,135.55 342.70,136.26 342.50,137.30 343.54,137.58 344.32,138.16 344.70,139.20 345.73,139.33 346.83,139.27 347.50,140.30 348.68,139.80 349.58,140.30 350.40,141.10 351.34,140.66 352.05,141.26 352.97,140.92 353.46,142.43 354.36,142.21 355.33,141.67 356,142.40 356.93,142.17 357.76,142.47 358.61,142.66 359.54,142.44 360.19,143.50 361,143.50 362,143.50" fill="#909090" stroke="#1a1a1a" stroke-width="1" stroke-linejoin="round"/>
<path d="M328.8 79.5V143.5M328.8 120.5H365.5" stroke="#777" stroke-width="1" fill="none"/>
<path d="M296.8 79.5H365.5" stroke="#8a8a8a" stroke-width="1"/>
<path d="M365.5 79.5V143.5" stroke="#b4b4b4" stroke-width="1"/>
<path d="M296.8 143.5H365.5" stroke="#4a4a4a" stroke-width="1"/>
<path d="M296.8 79.0V144.0" stroke="#333" stroke-width="1"/>
<path d="M294.8 81.5h1.6M294.8 83.6h1.6M294.8 85.7h1.6M294.8 87.8h1.6M294.8 89.9h1.6M294.8 92.0h1.6M294.8 94.1h1.6M294.8 96.2h1.6M294.8 98.3h1.6M294.8 100.4h1.6M294.8 102.5h1.6M294.8 104.6h1.6M294.8 106.7h1.6M294.8 108.8h1.6M294.8 110.9h1.6M294.8 113.0h1.6M294.8 115.1h1.6M294.8 117.2h1.6M294.8 119.3h1.6M294.8 121.4h1.6M294.8 123.5h1.6M294.8 125.6h1.6M294.8 127.7h1.6M294.8 129.8h1.6M294.8 131.9h1.6M294.8 134.0h1.6M294.8 136.1h1.6M294.8 138.2h1.6M294.8 140.3h1.6" stroke="#8a8a8a" stroke-width="0.8"/>
<path d="M296.8 143.5v2.8M302.0 143.5v2.8M305.0 143.5v2.8M307.1 143.5v2.8M308.8 143.5v2.8M310.2 143.5v2.8M311.3 143.5v2.8M312.3 143.5v2.8M313.2 143.5v2.8M314.0 143.5v2.8M319.1 143.5v2.8M322.2 143.5v2.8M324.3 143.5v2.8M326.0 143.5v2.8M327.3 143.5v2.8M328.5 143.5v2.8M329.5 143.5v2.8M330.4 143.5v2.8M331.1 143.5v2.8M336.3 143.5v2.8M339.3 143.5v2.8M341.5 143.5v2.8M343.2 143.5v2.8M344.5 143.5v2.8M345.7 143.5v2.8M346.7 143.5v2.8M347.5 143.5v2.8M348.3 143.5v2.8M353.5 143.5v2.8M356.5 143.5v2.8M358.7 143.5v2.8M360.3 143.5v2.8M361.7 143.5v2.8M362.8 143.5v2.8M363.8 143.5v2.8M364.7 143.5v2.8" stroke="#888" stroke-width="0.8"/>
<text x="337" y="94.6" font-size="12.5">58.2</text>
<g font-size="12.9" text-anchor="middle">
<text x="114.35" y="162.8">CD80</text>
<text x="188.5" y="162.8">CD86</text>
<text x="256" y="162.8">CD252</text>
<text x="333.2" y="162.8">CD137L</text>
</g>
<path d="M402 194.3H429" stroke="#000" stroke-width="1.8" stroke-dasharray="1.3 1.1"/>
<path d="M402.3 215.2H428.5" stroke="#000" stroke-width="1.6" stroke-dasharray="6 4"/>
<path d="M403.3 236.6H429.6" stroke="#000" stroke-width="1.6"/>
<g font-size="16.4">
<text x="444.3" y="199.6">Media</text>
<text x="445.3" y="221.5">IgG1</text>
<text x="445" y="242.1" font-size="16">IgG1+γδT</text>
</g>
<path d="M16.6 271.8H24.6M16.6 290.8H24.6M16.6 311.5H24.6M16.6 328.3H24.6M16.6 345H24.6" stroke="#b8b8b8" stroke-width="1.1"/>
<path d="M24.6 349v5.5M52.3 349v5.5M80.0 349v5.5M107.7 349v5.5M135.4 349v5.5" stroke="#b0b0b0" stroke-width="0.8"/>
<path d="M32.9 349v2.5M37.8 349v2.5M41.3 349v2.5M44.0 349v2.5M46.2 349v2.5M48.0 349v2.5M49.6 349v2.5M51.0 349v2.5M60.6 349v2.5M65.5 349v2.5M69.0 349v2.5M71.7 349v2.5M73.9 349v2.5M75.7 349v2.5M77.3 349v2.5M78.7 349v2.5M88.3 349v2.5M93.2 349v2.5M96.7 349v2.5M99.4 349v2.5M101.6 349v2.5M103.4 349v2.5M105.0 349v2.5M106.4 349v2.5M116.0 349v2.5M120.9 349v2.5M124.4 349v2.5M127.1 349v2.5M129.3 349v2.5M131.1 349v2.5M132.7 349v2.5M134.1 349v2.5" stroke="#a0a0a0" stroke-width="0.7"/>
<path d="M24.6 268.8V353.5" stroke="#000" stroke-width="1.7" fill="none"/>
<path d="M24.0 349H135.4" stroke="#000" stroke-width="1.6" fill="none"/>
<polyline points="25.50,341 25.70,340.50 28.70,337.50 32.40,333.10 36.10,327.10 39.10,319.70 41.30,312.30 44,305 45.50,299 46.50,294.20 47.60,288.60 48.80,282 50.30,277.30 51.50,273 52.60,270.20 53.80,272 55,276 55.90,279.20 57.30,285.80 58.30,292.40 59.20,298 60.30,305 61.30,310 62.50,318 63.40,320 64,326 65.50,330 67,338 69,342 71,343 75,346.50 78,346.80 80,346 85,345 90,344.50 96,344.20 100,345 103,347 108,348.20 115,348.50 130,348.60" fill="none" stroke="#000" stroke-width="1.3" stroke-dasharray="1.1 1.2"/>
<polyline points="25.50,340.50 28.50,337.50 32.50,333 36.30,327.50 39.50,320 41.80,312.50 44.30,305 45.80,299 47,293 48.30,287 49.50,282 51,277 53.30,271.50 55,275 56.50,280 57.80,286 58.80,292.50 59.80,298 61,308 62.50,318 64,326 66,335 70,343 74,346 78,347.50 85,347 92,347.50 100,348 110,348.50" fill="none" stroke="#000" stroke-width="1.5" stroke-dasharray="3.2 2.3"/>
<polyline points="25.50,341 27.90,339 32.40,334.60 36.90,328.60 40.60,321.20 42.80,312.30 45,305 46.50,299 47.40,296.10 49.30,289.50 50.70,283.90 52.60,277.30 54.50,274 56.90,277.30 58.80,283.90 60.60,291.40 62.50,299 64.50,310 65.70,316 66.60,320 69,328 70,330 73,336 76,342 79.50,346.50 81,348 85,347.50 90,348 100,348.50 110,348.50" fill="none" stroke="#000" stroke-width="1.5" stroke-linejoin="round"/>
<text x="74.7" y="368.5" font-size="12.9" text-anchor="middle">CD28</text>
<path d="M137.0 271.5H145.0M137.0 290.2H145.0M137.0 311.2H145.0M137.0 328.2H145.0M137.0 344.5H145.0" stroke="#b8b8b8" stroke-width="1.1"/>
<path d="M145.0 349v5.5M172.6 349v5.5M200.1 349v5.5M227.6 349v5.5M255.2 349v5.5" stroke="#b0b0b0" stroke-width="0.8"/>
<path d="M153.3 349v2.5M158.1 349v2.5M161.6 349v2.5M164.3 349v2.5M166.4 349v2.5M168.3 349v2.5M169.9 349v2.5M171.3 349v2.5M180.8 349v2.5M185.7 349v2.5M189.1 349v2.5M191.8 349v2.5M194.0 349v2.5M195.8 349v2.5M197.4 349v2.5M198.8 349v2.5M208.4 349v2.5M213.2 349v2.5M216.7 349v2.5M219.4 349v2.5M221.5 349v2.5M223.4 349v2.5M225.0 349v2.5M226.4 349v2.5M235.9 349v2.5M240.8 349v2.5M244.2 349v2.5M246.9 349v2.5M249.1 349v2.5M250.9 349v2.5M252.5 349v2.5M253.9 349v2.5" stroke="#a0a0a0" stroke-width="0.7"/>
<path d="M145.0 268.8V353.5" stroke="#000" stroke-width="1.7" fill="none"/>
<path d="M144.4 349H255.2" stroke="#000" stroke-width="1.6" fill="none"/>
<polyline points="145.50,341 148,339.50 151.50,337 156,332.50 160.50,326.50 165,319 168,311.50 170.20,301 171.80,291 173.50,283 175,277 177.50,270 179.50,273 182,277 184,289 185.50,298 187,308 189,320 191,330 193.50,338 196.50,343 200,345 206,346.30 212,347 220,347.50 230,348 250,348.50" fill="none" stroke="#000" stroke-width="1.3" stroke-dasharray="1.1 1.2"/>
<polyline points="145.50,342 148,340.50 151.70,337.50 156.20,333 160.60,327 165.10,319.50 168.10,312 170.30,301.50 171.90,291.50 174,282 176,275 178,272 180,274 182.50,279 184.50,291 186,301 188,313 190,324 192.50,335 195,341 198,344 203,346 210,346.50 220,347.50 240,348.50" fill="none" stroke="#000" stroke-width="1.5" stroke-dasharray="3.2 2.3"/>
<polyline points="145.50,343 148.20,341.50 151.90,338 156.40,333.30 160.80,327.30 165.30,320 168.30,312.30 170.50,302 172,292 173,288.20 174.50,277.60 176,274.50 177.50,272.50 179,272.80 181.20,275.30 182.80,279 184.30,283.60 185.50,290 186.50,295.70 187.30,303 188,309.30 189,318 190.50,326 192,333 194,339 196.50,343 200,345.50 206,346.80 212,347.50 220,348 230,348.50 250,348.50" fill="none" stroke="#000" stroke-width="1.5" stroke-linejoin="round"/>
<text x="197.75" y="368.5" font-size="12.9" text-anchor="middle">CD152</text>
<path d="M262.6 268H270.6M262.6 287H270.6M262.6 306.8H270.6M262.6 324H270.6M262.6 341.1H270.6" stroke="#b8b8b8" stroke-width="1.1"/>
<path d="M270.6 348.8v5.5M298.3 348.8v5.5M326.0 348.8v5.5M353.7 348.8v5.5M381.4 348.8v5.5" stroke="#b0b0b0" stroke-width="0.8"/>
<path d="M278.9 348.8v2.5M283.8 348.8v2.5M287.3 348.8v2.5M290.0 348.8v2.5M292.2 348.8v2.5M294.0 348.8v2.5M295.6 348.8v2.5M297.0 348.8v2.5M306.6 348.8v2.5M311.5 348.8v2.5M315.0 348.8v2.5M317.7 348.8v2.5M319.9 348.8v2.5M321.7 348.8v2.5M323.3 348.8v2.5M324.7 348.8v2.5M334.3 348.8v2.5M339.2 348.8v2.5M342.7 348.8v2.5M345.4 348.8v2.5M347.6 348.8v2.5M349.4 348.8v2.5M351.0 348.8v2.5M352.4 348.8v2.5M362.0 348.8v2.5M366.9 348.8v2.5M370.4 348.8v2.5M373.1 348.8v2.5M375.3 348.8v2.5M377.1 348.8v2.5M378.7 348.8v2.5M380.1 348.8v2.5" stroke="#a0a0a0" stroke-width="0.7"/>
<path d="M270.6 264.7V349.5" stroke="#000" stroke-width="1.7" fill="none"/>
<path d="M270.0 348.8H381.4" stroke="#000" stroke-width="1.6" fill="none"/>
<polyline points="271,334 271.50,327 273.30,312 274.80,306 276.30,300 277.50,295 278.60,291 280,284 281.60,278.40 283,276 284.90,272.80 286,275 287.50,281 288.40,285 289.50,291 291.40,300 292.20,309 293,313 295.20,324.90 297,328 299.70,330.90 302,333 305.70,337 308,339 311.80,343 314,345 317,346.80 320,348 330,348.50 380,348.50" fill="none" stroke="#000" stroke-width="1.3" stroke-dasharray="1.1 1.2"/>
<polyline points="271,340 272.60,327 275.60,321 277,309.30 278.60,307.50 280,301.70 282,295 284.60,289.70 286,283 286.90,280.60 288.50,282 291.40,284.40 293,290.40 296,298.70 296.70,306 300.50,307.80 303.50,312 304.20,312.30 307.20,319.60 310.30,327 312.50,335 315,342 318,346 322,348 330,348.50" fill="none" stroke="#000" stroke-width="1.5" stroke-dasharray="3.2 2.3"/>
<polyline points="271,337 274,332 277,327.10 279.50,322 281.60,317.30 283.50,312.50 286.10,307.50 288,303 289.90,299 291.50,297 293,300 294.40,294.20 295.50,294.50 296.70,295 298.50,291 300,288 302,284 303,285 305.70,295 306.50,304.50 308,312 309.50,321 311,329 312.50,336.20 314.50,341 316.30,345.20 318,347 320.80,348.30 330,348.60 381,348.60" fill="none" stroke="#000" stroke-width="1.5" stroke-linejoin="round"/>
<text x="325.4" y="368.5" font-size="12.9" text-anchor="middle">CD134</text>
<path d="M387.4 275.3H395.4M387.4 292.7H395.4M387.4 311.2H395.4M387.4 330.2H395.4M387.4 349H395.4" stroke="#b8b8b8" stroke-width="1.1"/>
<path d="M395.4 348.8v5.5M423.3 348.8v5.5M451.1 348.8v5.5M479.0 348.8v5.5M506.9 348.8v5.5" stroke="#b0b0b0" stroke-width="0.8"/>
<path d="M403.8 348.8v2.5M408.7 348.8v2.5M412.2 348.8v2.5M414.9 348.8v2.5M417.1 348.8v2.5M419.0 348.8v2.5M420.6 348.8v2.5M422.0 348.8v2.5M431.7 348.8v2.5M436.6 348.8v2.5M440.1 348.8v2.5M442.8 348.8v2.5M445.0 348.8v2.5M446.8 348.8v2.5M448.4 348.8v2.5M449.9 348.8v2.5M459.5 348.8v2.5M464.4 348.8v2.5M467.9 348.8v2.5M470.6 348.8v2.5M472.8 348.8v2.5M474.7 348.8v2.5M476.3 348.8v2.5M477.7 348.8v2.5M487.4 348.8v2.5M492.3 348.8v2.5M495.8 348.8v2.5M498.5 348.8v2.5M500.7 348.8v2.5M502.6 348.8v2.5M504.2 348.8v2.5M505.6 348.8v2.5" stroke="#a0a0a0" stroke-width="0.7"/>
<path d="M395.4 268.9V349.5" stroke="#000" stroke-width="1.3" fill="none"/>
<path d="M394.79999999999995 348.8H506.9" stroke="#000" stroke-width="1.6" fill="none"/>
<polyline points="396.60,340 399,336 402.60,330.20 405,325 407.10,319.60 409,314 411.30,309 413.80,300 415.60,289 417.80,282 419.60,278 421.80,273.10 423,271 424.50,269.30 425.30,275 426,286.70 427.50,292 429,297.20 429.70,305 430.50,322.60 431.50,331 432.80,339.20 434.50,343.50 436.50,346 441.80,348.30 450,348.60 505,348.60" fill="none" stroke="#000" stroke-width="1.3" stroke-dasharray="1.1 1.2"/>
<polyline points="396.60,340 399,336 402.60,330.20 405,325 407.10,319.60 409,314 411.30,309 413.80,300 415.60,289 417.80,282 419.60,278 421.80,273.10 423,271 424.50,269.30 425.50,269.50 426.70,273.10 428.50,280 430.50,288.20 431.20,295 432,301.70 433.50,313.60 435.80,322.60 438.80,325.60 442.60,323.40 446.30,326.40 449,329 452.60,332.40 456.90,340.70 460.10,345.20 462.40,348 470,348.60" fill="none" stroke="#000" stroke-width="1.5" stroke-dasharray="3.2 2.3"/>
<polyline points="396.60,345.20 402.60,340.70 408.60,337 413.90,330.20 417.70,318.10 419.20,313.80 420.70,309 423,306.80 424.50,301 426,296 427.50,292 429,290.40 431.20,282.90 434,285 437.30,288.90 439.50,289.70 442.60,289 446.30,300 447.30,302 450.90,309 452.60,315.10 455.40,322.60 456.30,327.10 459.90,331.70 461.60,336.20 464,338.50 466.10,343 469,345.50 472.20,347.50 476.70,348.50 490,348.60" fill="none" stroke="#000" stroke-width="1.5" stroke-linejoin="round"/>
<text x="447.15" y="368.5" font-size="12.9" text-anchor="middle">CD137</text>
</svg>
</body></html>
